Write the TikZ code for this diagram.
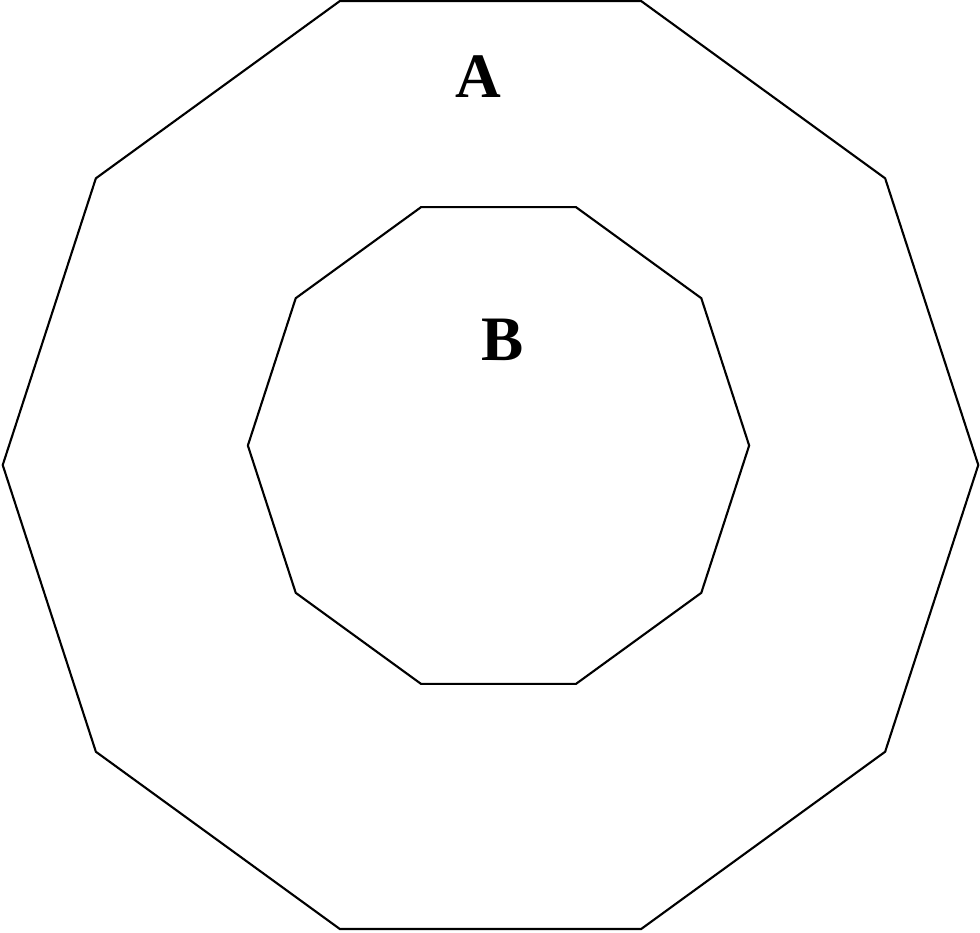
\documentclass[tikz,border=0pt]{standalone}
\usepackage{fontspec}
\setmainfont{Liberation Serif}
\usetikzlibrary{shapes.geometric}
\tikzset{
  deca/.style={draw, regular polygon, regular polygon sides=10, inner sep=0pt, line width=0.6pt},
  lbl/.style={font=\fontsize{18}{20}\selectfont\bfseries, inner sep=0pt},
}

\begin{document}
\begin{tikzpicture}[x=0.01cm,y=-0.01cm]
\useasboundingbox (0,0) rectangle (980,932);
\node[deca, minimum size=9.75cm] (outer) at (490.5,465) {};
\node[deca, minimum size=5.01cm] (inner) at (498.5,445.5) {};
\node[lbl] (a) at (478,77) {A};
\node[lbl] (b) at (503,340) {B};
\end{tikzpicture}
\end{document}
